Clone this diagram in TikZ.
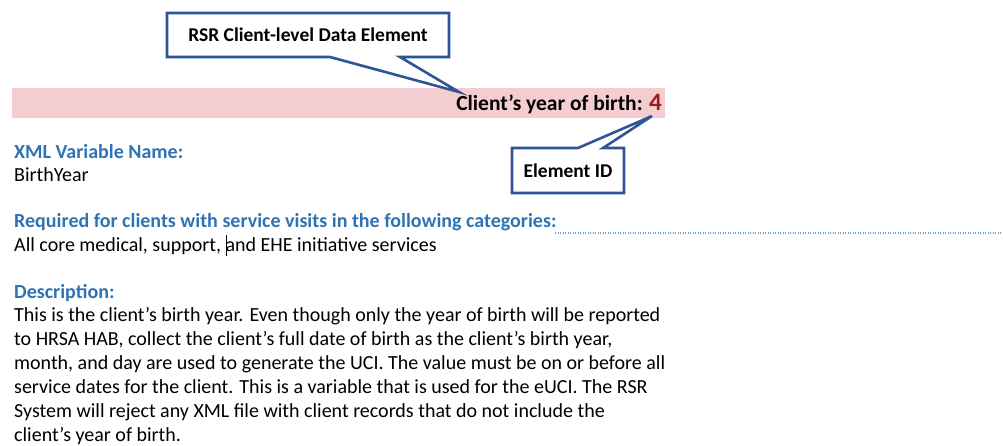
\documentclass[tikz,border=0pt]{standalone}
\usepackage{fontspec}
\setmainfont{Carlito}
\definecolor{hdblue}{HTML}{2E74B5}
\definecolor{cborder}{HTML}{2F5597}
\definecolor{bandpink}{HTML}{F4CDD1}
\definecolor{idred}{HTML}{9C1C1C}
\definecolor{dotblue}{HTML}{6FA0D8}
\tikzset{
  body/.style={anchor=base west, inner sep=0pt, font=\fontsize{20}{24}\selectfont},
  head/.style={body, text=hdblue, font=\fontsize{20}{24}\selectfont\bfseries},
  ctext/.style={inner sep=0pt, font=\fontsize{19.5}{23}\selectfont\bfseries},
  callout/.style={draw=cborder, line width=2.6pt, fill=white, line join=miter},
}
\begin{document}
\begin{tikzpicture}[x=1pt,y=-1pt]
\useasboundingbox (0,0) rectangle (1003,445);
% pink band
\fill[bandpink] (12,88) rectangle (665,118);
\node[anchor=base east, inner sep=0pt] (title) at (662,110)
  {\fontsize{21.5}{25}\selectfont\bfseries Client’s year of birth: {\color{idred}\fontsize{25}{28}\selectfont 4}};
\coordinate (tip1) at (459,92);
\coordinate (tip2) at (652,116);
% callout 1
\draw[callout] (167,13) -- (449,13) -- (449,57) -- (400,57) -- (tip1) -- (330,57) -- (167,57) -- cycle;
\node[ctext] (c1) at (308,35) {RSR Client-level Data Element};
% callout 2
\draw[callout] (512,148) -- (578,148) -- (tip2) -- (603,148) -- (624,148) -- (624,193) -- (512,193) -- cycle;
\node[ctext] (c2) at (568,171) {Element ID};
% texts
\node[head] (h1) at (14,158) {XML Variable Name:};
\node[body] (t1) at (14,181) {BirthYear};
\node[head] (h2) at (14,227) {Required for clients with service visits in the following categories:};
\node[body] (t2) at (14,251) {All core medical, support, \rlap{\rule[-5pt]{0.7pt}{21pt}}and EHE initiative services};
\draw[dotblue, line width=1.2pt, dash pattern=on 1.2pt off 1.3pt] (555,233) -- (1003,233);
\node[head] (h3) at (14,298) {Description:};
\node[body] (p1) at (14,321) {This is the client’s birth year. Even though only the year of birth will be reported};
\node[body] (p2) at (14,345) {to HRSA HAB, collect the client’s full date of birth as the client’s birth year,};
\node[body] (p3) at (14,369) {month, and day are used to generate the UCI. The value must be on or before all};
\node[body] (p4) at (14,393) {service dates for the client. This is a variable that is used for the eUCI. The RSR};
\node[body] (p5) at (14,417) {System will reject any XML file with client records that do not include the};
\node[body] (p6) at (14,441) {client’s year of birth.};
\end{tikzpicture}
\end{document}
